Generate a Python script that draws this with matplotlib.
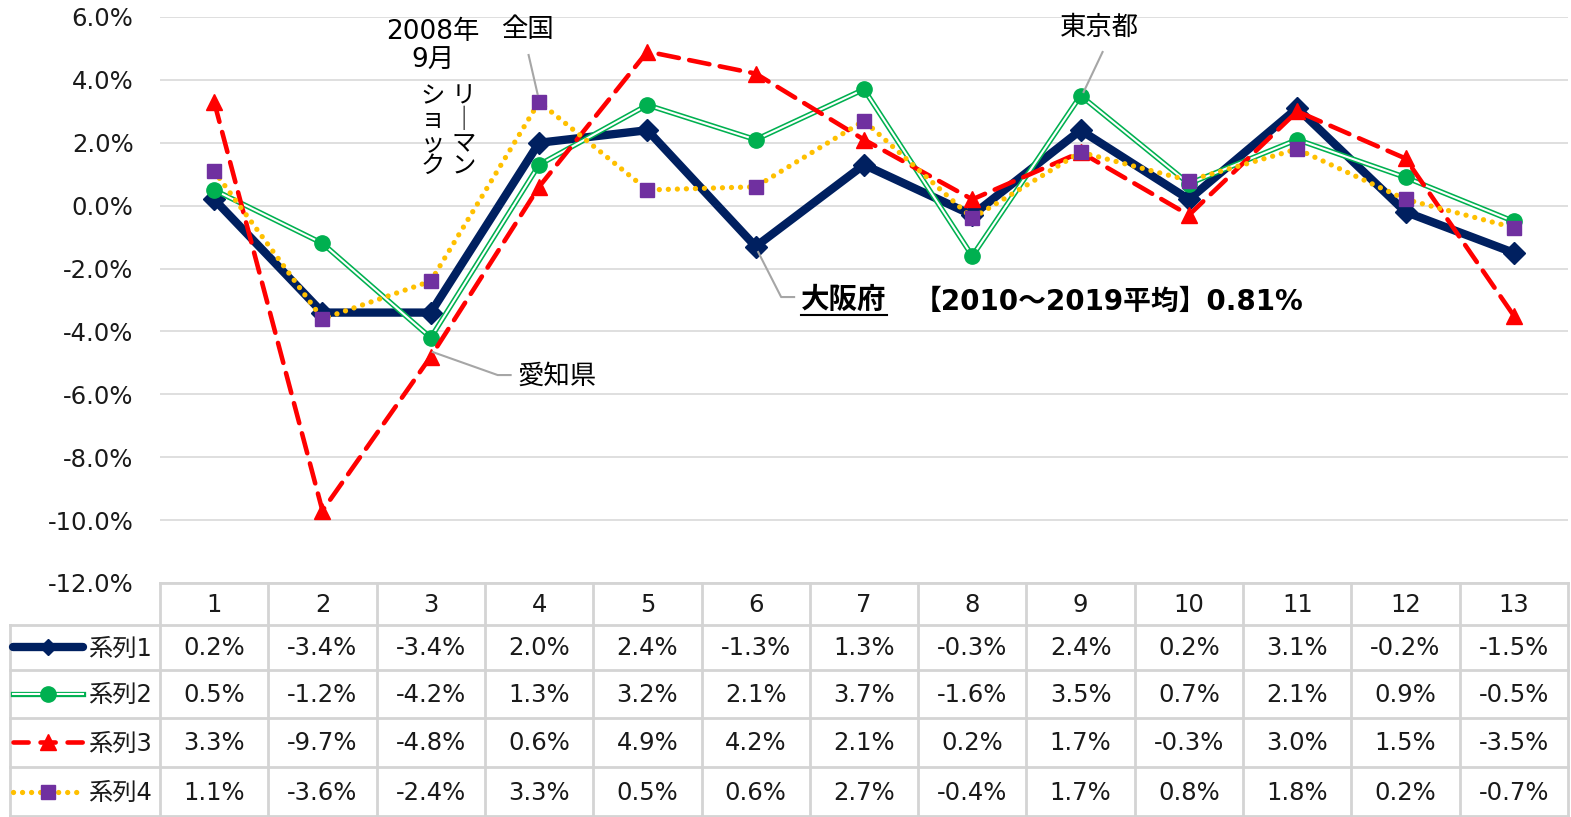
import matplotlib
matplotlib.use('Agg')
import matplotlib.pyplot as plt
from matplotlib.lines import Line2D
import numpy as np

plt.rcParams['font.family'] = ['DejaVu Sans', 'Noto Sans CJK JP']

categories = [str(i) for i in range(1, 14)]
series_names = ['系列1', '系列2', '系列3', '系列4']
s1 = [0.2, -3.4, -3.4, 2.0, 2.4, -1.3, 1.3, -0.3, 2.4, 0.2, 3.1, -0.2, -1.5]
s2 = [0.5, -1.2, -4.2, 1.3, 3.2, 2.1, 3.7, -1.6, 3.5, 0.7, 2.1, 0.9, -0.5]
s3 = [3.3, -9.7, -4.8, 0.6, 4.9, 4.2, 2.1, 0.2, 1.7, -0.3, 3.0, 1.5, -3.5]
s4 = [1.1, -3.6, -2.4, 3.3, 0.5, 0.6, 2.7, -0.4, 1.7, 0.8, 1.8, 0.2, -0.7]
series = [s1, s2, s3, s4]
yticks = np.arange(-12, 6.1, 2)

NAVY = '#002060'
GREEN = '#00B050'
RED = '#FF0000'
ORANGE = '#FFC000'
PURPLE = '#7030A0'
GRID = '#d9d9d9'
TXT = '#1a1a1a'
FS = 17.5

W, H = 1571, 817
fig = plt.figure(figsize=(W / 100, H / 100), dpi=100)
L, R, T, B = 160, 1568, 17, 583
ax = fig.add_axes([L / W, (H - B) / H, (R - L) / W, (B - T) / H])
x = np.arange(1, len(categories) + 1)
ax.set_xlim(0.5, len(categories) + 0.5)
ax.set_ylim(-12, 6)
ax.set_yticks(yticks)
ax.set_yticklabels([f'{v:.1f}%' for v in yticks], fontsize=FS, color=TXT)
ax.tick_params(axis='y', length=0, pad=19)
ax.set_xticks([])
for s in ax.spines.values():
    s.set_visible(False)
ax.grid(axis='y', color=GRID, lw=1.2)
ax.set_axisbelow(True)


def draw_series(a, xs, ys, i, z, markers=True):
    if i == 0:
        a.plot(xs, ys, color=NAVY, lw=6, marker='D' if markers else None,
               ms=11, solid_joinstyle='miter', solid_capstyle='round',
               zorder=z, clip_on=False)
    elif i == 1:
        a.plot(xs, ys, color=GREEN, lw=3.8, zorder=z, clip_on=False)
        a.plot(xs, ys, color='white', lw=1.5, zorder=z + 0.1, clip_on=False)
        if markers:
            a.plot(xs, ys, ls='none', marker='o', ms=11, color=GREEN,
                   zorder=z + 0.2, clip_on=False)
    elif i == 2:
        a.plot(xs, ys, color=RED, lw=3.3, ls=(0, (4.5, 2.3)),
               marker='^' if markers else None,
               ms=11, dash_capstyle='round', zorder=z, clip_on=False)
    else:
        a.plot(xs, ys, color=ORANGE, lw=3.8, ls=(0, (0.01, 1.7)),
               dash_capstyle='round', zorder=z, clip_on=False)
        if markers:
            a.plot(xs, ys, ls='none', marker='s', ms=10.5, color=PURPLE,
                   zorder=z + 0.2, clip_on=False)


for i, ys in enumerate(series):
    draw_series(ax, x, ys, i, 3 + i)

# annotations
def px2d(px, py):
    return 1 + (px - 213) / 108.5, 6 - (py - 17) / 31.44


ann_fs = 19
ax.text(*px2d(432, 46), '2008年\n9月', ha='center', va='center',
        fontsize=ann_fs, linespacing=1.15, color='black')
ax.text(*px2d(463, 84), 'リ\n｜\nマ\nン', ha='center', va='top',
        fontsize=17.5, linespacing=0.97, color='black')
ax.text(*px2d(432, 84), 'シ\nョ\nッ\nク', ha='center', va='top',
        fontsize=17.5, linespacing=0.97, color='black')

lead = dict(color='#a6a6a6', lw=1.5, zorder=9)
ax.text(*px2d(527, 30), '全国', ha='center', va='center', fontsize=ann_fs)
ax.plot(*zip(px2d(528, 55), px2d(537, 94)), **lead)
ax.text(*px2d(1100, 28), '東京都', ha='center', va='center', fontsize=ann_fs)
ax.plot(*zip(px2d(1103, 52), px2d(1084, 92)), **lead)
ax.text(*px2d(517, 377), '愛知県', ha='left', va='center', fontsize=ann_fs)
ax.plot(*zip(px2d(432, 352), px2d(497, 375), px2d(510, 375)), **lead)
osaka = ax.text(*px2d(801, 300), '大阪府', ha='left', va='center',
                fontsize=20.5, fontweight='bold')
ax.plot(*zip(px2d(758, 252), px2d(781, 297), px2d(794, 297)), **lead)
ax.text(*px2d(914, 302), '【2010～2019平均】0.81%', ha='left', va='center',
        fontsize=20, fontweight='bold', color='black')

# data table under the chart
tax = fig.add_axes([L / W, 0, (R - L) / W, (H - B) / H])
tax.set_xlim(0.5, len(categories) + 0.5)
tax.set_ylim(H, B)
tax.axis('off')

tcol = '#d4d4d4'
row_edges = [583, 625, 670, 718, 767, 816]
left_x = 0.5 - (L - 10) / 108.3
tlw = 2
tax.plot([0.5, 13.5], [583, 583], color=tcol, lw=tlw, clip_on=False)
for yb in row_edges[1:]:
    tax.plot([left_x, 13.5], [yb, yb], color=tcol, lw=tlw, clip_on=False)
for xb in np.arange(0.5, len(categories) + 1):
    tax.plot([xb, xb], [583, 817], color=tcol, lw=tlw, clip_on=False)
tax.plot([left_x, left_x], [625, 817], color=tcol, lw=tlw, clip_on=False)

for j, c in enumerate(categories):
    tax.text(x[j], (row_edges[0] + row_edges[1]) / 2 + 1, c, ha='center',
             va='center', fontsize=FS, color=TXT)
for i, ys in enumerate(series):
    yc = (row_edges[i + 1] + row_edges[i + 2]) / 2
    for j, v in enumerate(ys):
        tax.text(x[j], yc + 1, f'{v:.1f}%', ha='center', va='center',
                 fontsize=FS, color=TXT)
    k0 = 0.5 - (L - 13) / 108.3
    k1 = 0.5 - (L - 83) / 108.3
    km = (k0 + k1) / 2
    if i == 1 or i == 3:
        draw_series(tax, [k0, k1], [yc, yc], i, 3, markers=False)
        tax.plot([km], [yc], ls='none', marker='o' if i == 1 else 's',
                 ms=11 if i == 1 else 10.5,
                 color=GREEN if i == 1 else PURPLE, zorder=6, clip_on=False)
    else:
        tax.plot([k0, k1], [yc, yc], color=NAVY if i == 0 else RED,
                 lw=6 if i == 0 else 3.3,
                 ls='-' if i == 0 else (0, (3.3, 2.6)),
                 solid_capstyle='round', dash_capstyle='round',
                 zorder=3, clip_on=False)
        tax.plot([km], [yc], ls='none', marker='D' if i == 0 else '^',
                 ms=8 if i == 0 else 11, color=NAVY if i == 0 else RED,
                 zorder=4, clip_on=False)
    tax.text(0.5 - (L - 88) / 108.3, yc + 1, series_names[i], ha='left',
             va='center', fontsize=FS, color=TXT)

# underline for 大阪府
fig.canvas.draw()
bb = osaka.get_window_extent()
fig.add_artist(Line2D([bb.x0 / W, bb.x1 / W], [(bb.y0 - 1) / H, (bb.y0 - 1) / H],
                      color='black', lw=1.5))

fig.savefig('out.png', dpi=100)
